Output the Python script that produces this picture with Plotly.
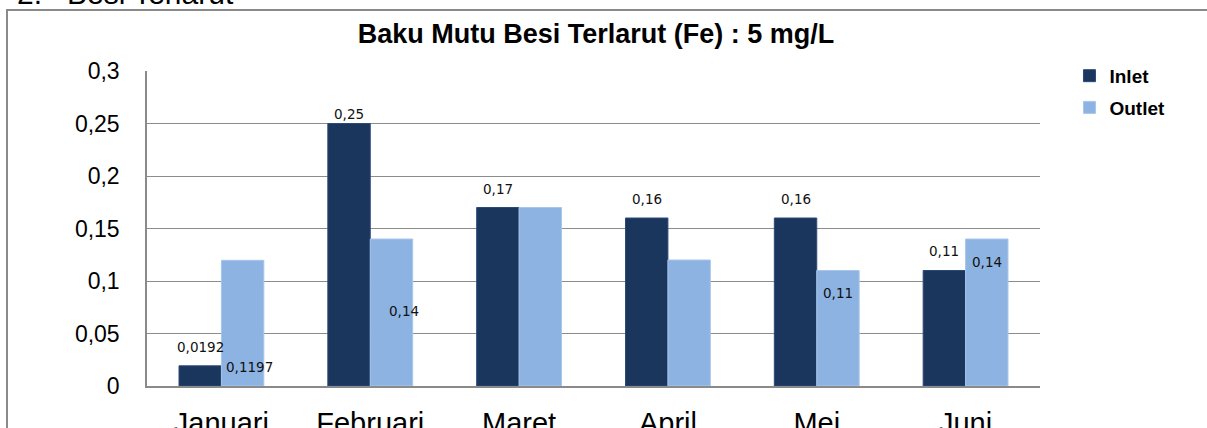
import plotly.graph_objects as go

months = ["Januari", "Februari", "Maret", "April", "Mei", "Juni"]
inlet = [0.0192, 0.25, 0.17, 0.16, 0.16, 0.11]
outlet = [0.1197, 0.14, 0.17, 0.12, 0.11, 0.14]
inlet_text = ["0,0192", "0,25", "0,17", "0,16", "0,16", "0,11"]
outlet_text = ["0,1197", "0,14", "0,17", "0,12", "0,11", "0,14"]
# label placement (Excel data labels were displaced in the original)
inlet_label_y = [0.037, 0.259, 0.188, 0.178, 0.178, 0.129]
outlet_label_y = [0.018, 0.071, -0.037, -0.032, 0.089, 0.118]
outlet_label_dx = [7, 13, 8, 21, 0, 0]
yticks = [0, 0.05, 0.1, 0.15, 0.2, 0.25, 0.3]
ytick_text = ["0", "0,05", "0,1", "0,15", "0,2", "0,25", "0,3"]

C_IN = "#1b365d"
C_OUT = "#8db3e2"
BARGAP = 0.43
W = (1 - BARGAP) / 2

fig = go.Figure()
fig.add_trace(go.Bar(name="<b>Inlet</b>", x=months, y=inlet, legendgroup="a",
                     marker=dict(color=C_IN, line=dict(color="#2c4a78", width=1))))
fig.add_trace(go.Bar(name="<b>Outlet</b>", x=months, y=outlet, legendgroup="b",
                     marker=dict(color=C_OUT, line=dict(color="#a9c6ea", width=1))))

lab_font = dict(family="DejaVu Sans", size=13.5, color="#111111")
for i, m in enumerate(months):
    fig.add_annotation(x=i - W / 2, y=inlet_label_y[i], xref="x", yref="y", text=inlet_text[i],
                       showarrow=False, font=lab_font, yanchor="middle")
    fig.add_annotation(x=i + W / 2, y=outlet_label_y[i], xref="x", yref="y", text=outlet_text[i],
                       showarrow=False, font=lab_font, yanchor="middle", xshift=outlet_label_dx[i])

# page header (cut off at top)
fig.add_annotation(x=(15 - 147) / 893, y=(386 - 12) / 315, xref="paper", yref="paper",
                   text="2.&nbsp;&nbsp;&nbsp;Besi Terlarut",
                   showarrow=False, xanchor="left", yanchor="bottom",
                   font=dict(family="Liberation Sans", size=30, color="#000000"))

# chart frame
fig.add_shape(type="rect", xref="paper", yref="paper", x0=(7 - 147) / 893, x1=1.3,
              y0=-0.5, y1=(386 - 10) / 315, line=dict(color="#8a8a8a", width=2), fillcolor="rgba(0,0,0,0)",
              layer="below")

fig.update_layout(
    width=1207, height=428,
    margin=dict(l=147, r=167, t=71, b=42),
    paper_bgcolor="white", plot_bgcolor="white",
    barmode="group", bargap=BARGAP, bargroupgap=0,
    title=dict(text="<b>Baku Mutu Besi Terlarut (Fe) : 5 mg/L</b>", x=596 / 1207, xref="container",
               y=1 - 34 / 428, yref="container", yanchor="middle", xanchor="center",
               font=dict(family="Liberation Sans", size=27, color="#000000")),
    legend=dict(x=1.033, y=1.045, xanchor="left", yanchor="top",
                font=dict(family="Liberation Sans", size=19, color="#000000"),
                itemwidth=30, tracegroupgap=4, bgcolor="rgba(0,0,0,0)"),
    showlegend=True,
)
fig.update_xaxes(showline=True, linecolor="#8a8a8a", linewidth=1.5, showgrid=False, ticks="", automargin=False,
                 tickfont=dict(family="Liberation Sans", size=29, color="#000000"), ticklabelstandoff=10)
fig.update_yaxes(range=[0, 0.3], tickvals=yticks, ticktext=ytick_text, showgrid=True, gridcolor="#8c8c8c",
                 gridwidth=1.2, showline=True, linecolor="#8a8a8a", linewidth=1.5, zeroline=False, ticks="",
                 automargin=False,
                 tickfont=dict(family="Liberation Sans", size=23, color="#000000"), ticklabelstandoff=21)

fig.write_html("out.html", config={"displayModeBar": False},
               post_script="document.body.style.margin='0';document.body.style.overflow='hidden';")
